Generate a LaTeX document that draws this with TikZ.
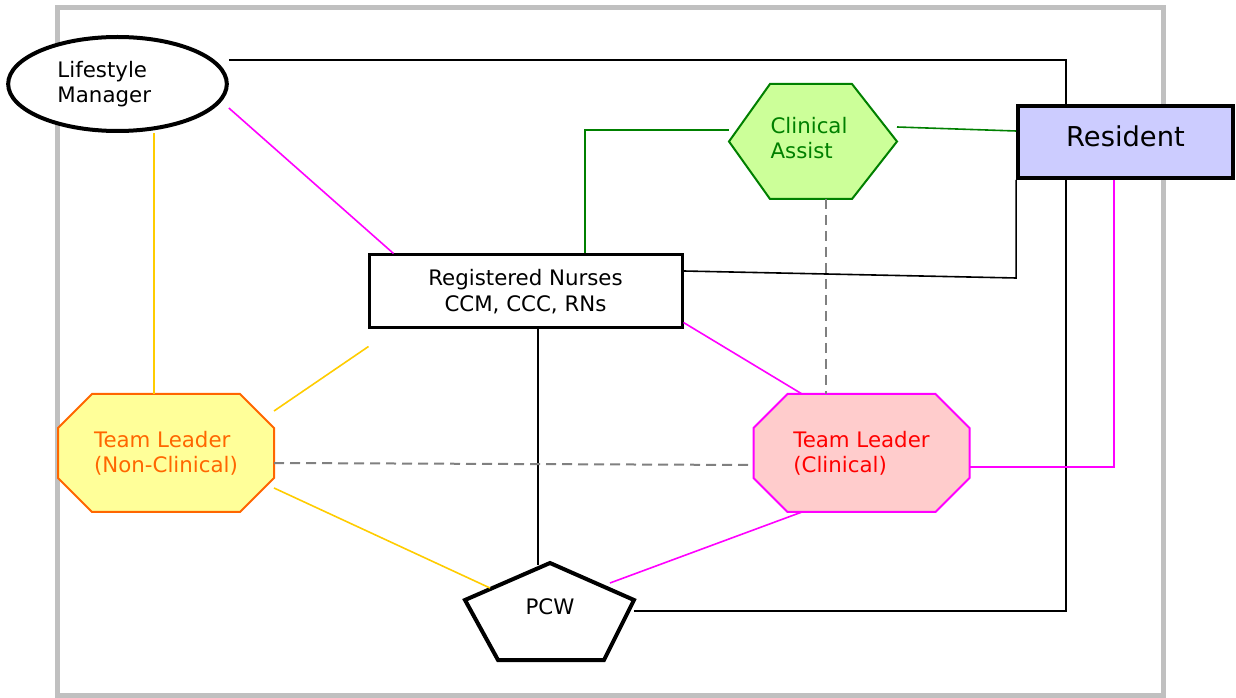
\documentclass[tikz,border=0pt]{standalone}
\usepackage{fontspec}
\setmainfont{DejaVu Sans}
\usetikzlibrary{shapes.geometric,calc}

\definecolor{residentblue}{RGB}{204,204,255}
\definecolor{assistgreen}{RGB}{204,255,153}
\definecolor{darkgreen}{RGB}{0,128,0}
\definecolor{leaderyellow}{RGB}{255,255,153}
\definecolor{leaderorange}{RGB}{255,102,0}
\definecolor{leaderpink}{RGB}{255,204,204}
\definecolor{linkmagenta}{RGB}{255,0,255}
\definecolor{linkred}{RGB}{255,0,0}
\definecolor{linkgold}{RGB}{255,204,0}
\definecolor{framegray}{RGB}{192,192,192}

\tikzstyle{outerframe} = [draw=framegray, line width=3.75pt]
\tikzstyle{manager} = [draw, fill=white, ellipse, line width=3pt,
    minimum width=164pt, minimum height=70.5pt, text width=90pt, align=left]
\tikzstyle{resident} = [draw, fill=residentblue, rectangle, line width=3pt,
    minimum width=161pt, minimum height=54pt, text depth=9pt,
    font=\fontsize{20.5}{24}\selectfont]
\tikzstyle{nurses} = [draw, fill=white, rectangle, line width=2.25pt,
    minimum width=234.75pt, minimum height=54.75pt, align=center]
\tikzstyle{leaderbox} = [rectangle, minimum width=162pt, minimum height=88.5pt,
    outer sep=0pt, align=left]
\tikzstyle{octa} = [line width=1.5pt]
\tikzstyle{hexa} = [draw=darkgreen, fill=assistgreen, line width=1.5pt]
\tikzstyle{penta} = [draw, fill=white, line width=3pt, line join=miter]
\tikzstyle{link} = [line width=1.2pt]
\tikzstyle{dashlink} = [draw=gray, line width=1.5pt, dash pattern=on 7.5pt off 4.5pt]

\begin{document}
\begin{tikzpicture}[x=0.75pt, y=-0.75pt, font=\fontsize{16}{19}\selectfont]
    \useasboundingbox (0,0) rectangle (1236,698);
    % the grey frame round everything
    \draw [outerframe] (57,8) rectangle (1163,695);

    % We start by placing the blocks
    \node [manager] (manager) at (117.5,84) {Lifestyle\\Manager};
    \node [resident] (resident) at (1125.5,142) {Resident};
    \node [nurses] (nurses) at (525.5,291.5) {Registered Nurses\\CCM, CCC, RNs};

    % the polygons are drawn first, their text goes on top
    \coordinate (nonclinicalc) at (166,453);
    \draw [octa, draw=leaderorange, fill=leaderyellow]
        ($(nonclinicalc)+(-108,-25)$) -- ($(nonclinicalc)+(-74,-59)$)
        -- ($(nonclinicalc)+(74,-59)$) -- ($(nonclinicalc)+(108,-25)$)
        -- ($(nonclinicalc)+(108,25)$) -- ($(nonclinicalc)+(74,59)$)
        -- ($(nonclinicalc)+(-74,59)$) -- ($(nonclinicalc)+(-108,25)$) -- cycle;
    \node [leaderbox, text=leaderorange] (nonclinical) at (nonclinicalc)
        {Team Leader\\(Non-Clinical)};

    \coordinate (clinicalc) at (861.5,453);
    \draw [octa, draw=linkmagenta, fill=leaderpink]
        ($(clinicalc)+(-108,-25)$) -- ($(clinicalc)+(-74,-59)$)
        -- ($(clinicalc)+(74,-59)$) -- ($(clinicalc)+(108,-25)$)
        -- ($(clinicalc)+(108,25)$) -- ($(clinicalc)+(74,59)$)
        -- ($(clinicalc)+(-74,59)$) -- ($(clinicalc)+(-108,25)$) -- cycle;
    \node [leaderbox, text=linkred] (clinical) at (clinicalc)
        {Team Leader\\(Clinical)};

    \coordinate (assistc) at (813,141.5);
    \draw [hexa] ($(assistc)+(-84,0)$) -- ($(assistc)+(-43,-57.5)$)
        -- ($(assistc)+(39,-57.5)$) -- ($(assistc)+(84,0)$)
        -- ($(assistc)+(39,57.5)$) -- ($(assistc)+(-43,57.5)$) -- cycle;
    \node [align=left, text=darkgreen] (assist) at (809,138) {Clinical\\Assist};

    \coordinate (pcwc) at (550,607);
    \draw [penta] ($(pcwc)+(0,-44)$) -- ($(pcwc)+(84,-7)$) -- ($(pcwc)+(54,53)$)
        -- ($(pcwc)+(-52,53)$) -- ($(pcwc)+(-85,-7)$) -- cycle;
    \node (pcw) at (pcwc) {PCW};

    % Once the nodes are placed, connecting them is easy.
    \draw [link] ($(manager.east)+(0,-24)$) -| ($(resident.north)+(-59.5,0)$);
    \draw [link] ($(resident.south)+(-59.5,0)$) |- ($(pcw)+(84,4)$);
    \draw [link] ($(nurses.east)+(0,-20.5)$) -- ($(resident.south west)+(0,98)$)
        -- (resident.south west);
    \draw [link] ($(nurses.south)+(12.5,0)$) -- ($(pcw)+(-12,-42)$);

    \draw [link, draw=darkgreen] ($(nurses.north)+(59.5,0)$) |- ($(assistc)+(-84,-11.5)$);
    \draw [link, draw=darkgreen] ($(assistc)+(84,-14.5)$) -- ($(resident.west)+(0,-11)$);

    \draw [dashlink] ($(assistc)+(13,57.5)$) -- ($(clinical.north)+(-35.5,0)$);
    \draw [dashlink] ($(nonclinical.east)+(0,10)$) -- ($(clinical.west)+(0,12)$);

    \draw [link, draw=linkmagenta] ($(manager.east)+(0,24)$) -- ($(nurses.north west)+(26,0)$);
    \draw [link, draw=linkmagenta] ($(nurses.south east)+(0,-7)$) -- ($(clinical.north)+(-59.5,0)$);
    \draw [link, draw=linkmagenta] ($(resident.south)+(-11.5,0)$) |- ($(clinical.east)+(0,14)$);
    \draw [link, draw=linkmagenta] ($(clinical.south)+(-59.5,0)$) -- ($(pcw)+(60,-24)$);

    \draw [link, draw=linkgold] ($(manager.south)+(36.5,0)$) -- ($(nonclinical.north)+(-12,0)$);
    \draw [link, draw=linkgold] ($(nurses.south west)+(1,17)$) -- ($(nonclinical.east)+(0,-42)$);
    \draw [link, draw=linkgold] ($(nonclinical.east)+(0,35)$) -- ($(pcw)+(-60,-19)$);
\end{tikzpicture}
\end{document}
